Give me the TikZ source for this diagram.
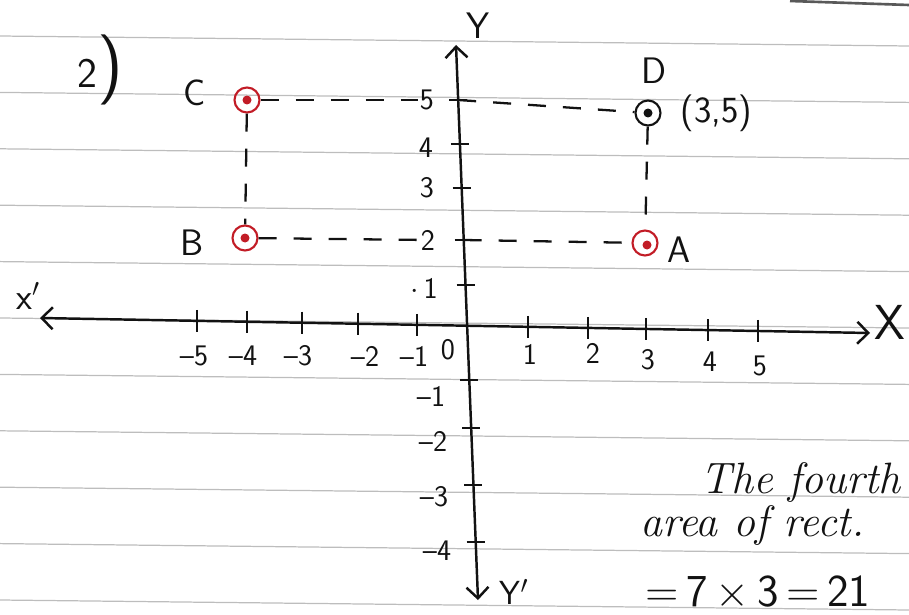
\documentclass[tikz,border=0pt]{standalone}
\usepackage{tikz}
\usepackage{xcolor}
\usepackage{amsmath}
\usetikzlibrary{arrows.meta, calc, positioning}
\definecolor{penred}{rgb}{0.76, 0.11, 0.15}
\definecolor{penblack}{rgb}{0.07, 0.07, 0.07}
\definecolor{ruling}{rgb}{0.74, 0.74, 0.74}
\tikzset{axisline/.style={penblack, line width=1.4pt, {Straight Barb[length=2.2mm, width=4.4mm]}-{Straight Barb[length=2.2mm, width=4.4mm]}}}
\tikzset{guide/.style={penblack, line width=1.3pt, dash pattern=on 3.6mm off 3.4mm}}
\tikzset{ptred/.style={circle, draw=penred, line width=1.2pt, minimum size=5mm, inner sep=0pt}}
\tikzset{ptblack/.style={circle, draw=penblack, line width=1.2pt, minimum size=5mm, inner sep=0pt}}
\tikzset{ticklab/.style={font=\sffamily\fontsize{17}{19}\selectfont, text=penblack, inner sep=1pt}}
\tikzset{ptlab/.style={font=\sffamily\fontsize{21}{23}\selectfont, text=penblack, inner sep=1pt}}
\tikzset{notes/.style={font=\itshape\fontsize{25}{28}\selectfont, text=penblack, inner sep=0pt}}

\begin{document}
\begin{tikzpicture}[x=0.02cm, y=-0.02cm]
\clip (0,0) rectangle (909,615);
\useasboundingbox (0,0) rectangle (909,615);

% ruled paper
\foreach \k in {0,...,10}
    \draw[ruling, line width=0.7pt] (0,{36+56.4*\k}) -- (909,{46+56.4*\k});
\draw[penblack!70, line width=1.5pt] (790,1) -- (909,5);

% axes
\coordinate (Xl) at (40,318);
\coordinate (Xr) at (870,333);
\coordinate (Yt) at (456,45);
\coordinate (Yb) at (478,600);
\draw[axisline] (Xl) -- (Xr);
\draw[axisline] (Yb) -- (Yt);

\foreach \n/\xv in {m5/197, m4/247, m3/302, m2/358, m1/417, p1/528, p2/588, p3/646, p4/708, p5/758} {
    \coordinate (tx\n) at ($(Xl)!{(\xv-40)/830}!(Xr)$);
    \draw[penblack, line width=1.2pt] ($(tx\n)+(0,-11)$) -- ($(tx\n)+(0,11)$);
}
\foreach \n/\yv in {p5/100, p4/144, p3/188, p2/240, p1/285, m1/380, m2/428, m3/485, m4/542} {
    \coordinate (ty\n) at ($(Yt)!{(\yv-45)/555}!(Yb)$);
    \draw[penblack, line width=1.2pt] ($(ty\n)+(-9,0)$) -- ($(ty\n)+(9,0)$);
}

\node[ticklab] (lxm5) at (194,356) {--5};
\node[ticklab] (lxm4) at (243,356) {--4};
\node[ticklab] (lxm3) at (298,356) {--3};
\node[ticklab] (lxm2) at (365,356) {--2};
\node[ticklab] (lxm1) at (414,356) {--1};
\node[ticklab] (lx0)  at (448,350) {0};
\node[ticklab] (lxp1) at (530,354) {1};
\node[ticklab] (lxp2) at (593,353) {2};
\node[ticklab] (lxp3) at (648,360) {3};
\node[ticklab] (lxp4) at (710,362) {4};
\node[ticklab] (lxp5) at (760,366) {5};

\node[ticklab] (lyp5) at (427,100) {5};
\node[ticklab] (lyp4) at (426,148) {4};
\node[ticklab] (lyp3) at (427,188) {3};
\node[ticklab] (lyp2) at (428,240) {2};
\node[ticklab] (lyp1) at (424,288) {$\cdot$\,1};
\node[ticklab] (lym1) at (431,396) {--1};
\node[ticklab] (lym2) at (433,441) {--2};
\node[ticklab] (lym3) at (434,497) {--3};
\node[ticklab] (lym4) at (437,551) {--4};

\node[ptlab, font=\sffamily\fontsize{28}{30}\selectfont] (Xlab) at (890,322) {X};
\node[ptlab] (Xplab) at (28,296) {x$'$};
\node[ptlab] (Ylab) at (478,26) {Y};
\node[ptlab, font=\sffamily\fontsize{19}{21}\selectfont] (Yplab) at (514,592) {Y$'$};
\node[ptlab, font=\sffamily\fontsize{24}{26}\selectfont] (qno) at (100,70) {2{\fontsize{40}{40}\selectfont)}};

% rectangle corners
\node[ptred] (C) at (247,100) {};
\node[ptred] (B) at (245,238) {};
\node[ptblack] (D) at (648,113) {};
\node[ptred] (A) at (645,243) {};
\fill[penred] (C.center) circle (0.9mm);
\fill[penred] (B.center) circle (0.9mm);
\fill[penblack] (D.center) circle (0.9mm);
\fill[penred] ($(A.center)+(2,2)$) circle (0.9mm);

\node[ptlab, left=5.2mm of C, yshift=1.4mm] (Clab) {C};
\node[ptlab, left=5.2mm of B, yshift=-1mm] (Blab) {B};
\node[ptlab, above=2.8mm of D, xshift=1.2mm] (Dlab) {D};
\node[ptlab, right=3.4mm of D] (Dxy) {(3,5)};
\node[ptlab, right=1.4mm of A, yshift=-1.4mm] (Alab) {A};

\draw[guide] (C) -- (lyp5);
\draw[guide] (typ5) -- (D);
\draw[guide] (B) -- (lyp2);
\draw[guide] (typ2) -- (A);
\draw[guide] (C) -- (B);
\draw[guide] (D) -- (A);

% working on the right
\node[notes, anchor=base west] (n1) at (700,493) {The fourth};
\node[notes, anchor=base west] (n2) at (640,536) {area of rect.};
\node[notes, font=\sffamily\fontsize{26}{28}\selectfont, anchor=base west] (n3) at (645,606) {=\,7\,$\times$\,3\,=\,21};

\end{tikzpicture}
\end{document}
